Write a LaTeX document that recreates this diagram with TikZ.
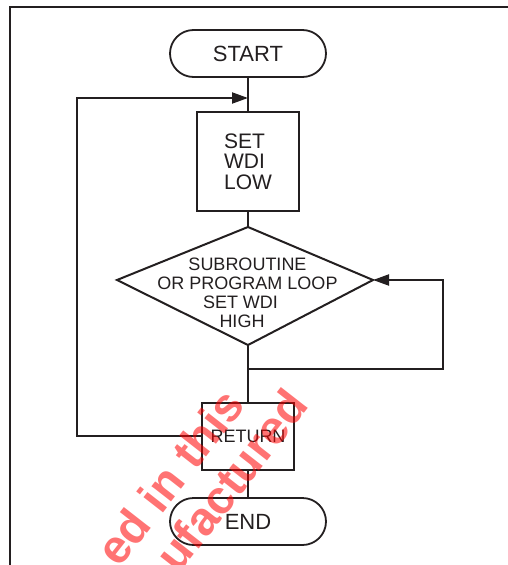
\documentclass[tikz,border=0pt]{standalone}
\usepackage{fontspec}
\setmainfont{Liberation Sans}
\usetikzlibrary{arrows.meta}
\definecolor{ink}{RGB}{35,31,32}
\begin{document}
\begin{tikzpicture}[x=1pt,y=-1pt,
  line/.style={draw=ink, line width=2pt},
  term/.style={draw=ink, line width=1.8pt, rounded corners=23.5pt, minimum width=156pt, minimum height=47pt, inner sep=0pt, font=\fontsize{22}{22}\selectfont, text=ink},
  procbox/.style={draw=ink, line width=2pt, inner sep=0pt, text=ink},
  arr/.style={-{Triangle[length=16pt,width=11pt]}},
  wm/.style={text=red, text opacity=0.55, font=\bfseries\fontsize{47}{47}\selectfont, rotate=52, anchor=base west, inner sep=0pt}
]
\path[use as bounding box] (0,0) rectangle (508,565);
% frame
\draw[ink, line width=1.5pt] (10,565) -- (10,7) -- (508,7);
% nodes
\node[term] (start) at (248,53.5) {START};
\node[procbox, minimum width=102pt, minimum height=99pt, align=left, font=\fontsize{21}{20.5}\selectfont] (set) at (248,161.5) {SET\\WDI\\LOW};
\coordinate (dT) at (248,227);
\coordinate (dL) at (117,280);
\coordinate (dR) at (373,280);
\coordinate (dB) at (248,345);
\draw[line, line join=miter] (dT) -- (dR) -- (dB) -- (dL) -- cycle;
\node[text=ink, align=center, font=\fontsize{18}{19}\selectfont, inner sep=0pt] (dtext) at (247.5,293) {SUBROUTINE\\OR PROGRAM LOOP\\SET WDI\kern14pt\\HIGH\kern11pt};
\node[procbox, minimum width=92pt, minimum height=67pt, font=\fontsize{18}{18}\selectfont] (ret) at (248,436) {RETURN};
\node[term] (end) at (248,521.5) {END};
% coordinates for loops
\coordinate (J1) at (248,98);
\coordinate (L) at (77,98);
\coordinate (J2) at (248,369);
\coordinate (R) at (443,280);
% connectors
\draw[line] (start) -- (set);
\draw[line] (set) -- (dT);
\draw[line] (dB) -- (ret);
\draw[line] (ret) -- (end);
\draw[line, arr] (ret.west) -| (L) -- (J1);
\draw[line, arr] (J2) -| (R) -- (dR);
% watermark
\begin{scope}
\clip (0,0) rectangle (508,565);
\node[wm] (w1) at (119.5,568.8) {ed in this};
\node[wm] (w2) at (178.7,574.9) {ufactured};
\end{scope}
\end{tikzpicture}
\end{document}
